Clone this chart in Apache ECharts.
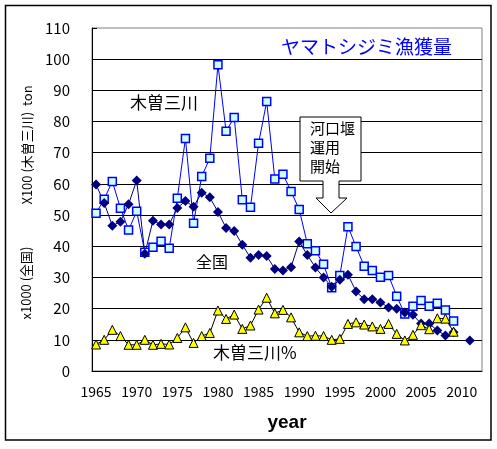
<!DOCTYPE html>
<html>
<head>
<meta charset="utf-8">
<script src="https://cdn.jsdelivr.net/npm/echarts@6/dist/echarts.min.js"></script>
<style>
  html, body { margin: 0; padding: 0; background: #fff; }
  #Chart { width: 497px; height: 449px; }
</style>
</head>
<body>
<div id="Chart"></div>
<script>
// Years on the category axis (1965 - 2012)
var years = ['1965','1966','1967','1968','1969','1970','1971','1972','1973','1974',
  '1975','1976','1977','1978','1979','1980','1981','1982','1983','1984',
  '1985','1986','1987','1988','1989','1990','1991','1992','1993','1994',
  '1995','1996','1997','1998','1999','2000','2001','2002','2003','2004',
  '2005','2006','2007','2008','2009','2010','2011','2012'];

// 木曽三川 catch, x100 ton
var kisoCatch = [50.6, 55.1, 60.8, 52.2, 45.2, 51.2, 38.1, 39.7, 41.6, 39.4,
  55.4, 74.6, 47.4, 62.4, 68.2, 98.2, 76.9, 81.3, 54.9, 52.5,
  73.0, 86.4, 61.6, 63.1, 57.6, 51.8, 40.8, 38.6, 34.2, 26.7,
  30.6, 46.3, 39.9, 33.6, 32.2, 30.1, 30.6, 24.0, 18.3, 20.8,
  22.6, 20.8, 21.7, 19.6, 16.0, null, null, null];

// 全国 catch, x1000 ton
var nationalCatch = [59.8, 53.9, 46.6, 47.9, 53.5, 61.1, 37.6, 48.2, 47.0, 47.0,
  52.3, 54.5, 52.7, 57.2, 55.7, 51.0, 45.9, 44.9, 40.5, 36.3,
  37.2, 36.9, 32.7, 32.2, 33.3, 41.5, 37.2, 33.2, 30.0, 27.0,
  29.3, 30.9, 25.5, 23.0, 23.0, 22.0, 20.4, 20.0, 18.8, 18.0,
  15.2, 15.2, 13.0, 11.4, 12.4, null, 9.8, null];

// 木曽三川 share of national catch, %
var kisoShare = [8.5, 10.0, 13.2, 11.2, 8.4, 8.4, 10.0, 8.4, 8.7, 8.5,
  10.6, 14.0, 9.0, 11.2, 12.2, 19.4, 16.7, 18.1, 13.5, 14.6,
  19.7, 23.5, 18.5, 19.6, 17.2, 12.4, 11.2, 11.3, 11.2, 10.0,
  10.3, 15.1, 15.6, 14.9, 14.3, 13.5, 15.1, 11.9, 9.8, 11.6,
  14.7, 13.4, 16.9, 16.8, 12.6, null, null, null];

var FONT = '"Noto Sans CJK JP", sans-serif';

var chart = echarts.init(document.getElementById('Chart'));

// callout with a down arrow for 河口堰 運用開始
var callout = [[300,117],[361,117],[361,181],[339,181],[339,198],[347,198],
  [331,213],[316,198],[323,198],[323,181],[300,181]];

var option = {
  animation: false,
  backgroundColor: '#fff',
  title: {
    text: 'ヤマトシジミ漁獲量',
    left: 276,
    top: 32,
    textStyle: { color: '#0000FF', fontSize: 19, fontWeight: 'normal', fontFamily: FONT }
  },
  grid: {
    left: 92, right: 15, top: 28, bottom: 78,
    show: true, borderColor: '#808080', borderWidth: 1
  },
  xAxis: {
    type: 'category',
    data: years,
    boundaryGap: true,
    name: 'year',
    nameLocation: 'middle',
    nameGap: 42,
    nameTextStyle: { color: '#000', fontSize: 19, fontWeight: 'bold', fontFamily: 'Liberation Sans, sans-serif' },
    axisLine: { lineStyle: { color: '#000', width: 1 } },
    axisTick: { inside: true, length: 5, interval: 4, lineStyle: { color: '#000' } },
    axisLabel: { interval: 4, color: '#000', fontSize: 14, margin: 14, fontFamily: FONT },
    splitLine: { show: false }
  },
  yAxis: {
    type: 'value',
    min: 0, max: 110, interval: 10,
    axisLine: { show: true, lineStyle: { color: '#000', width: 1 } },
    axisTick: { show: true, inside: true, length: 5, lineStyle: { color: '#000' } },
    axisLabel: { color: '#000', fontSize: 15, margin: 22, fontFamily: FONT },
    splitLine: { show: true, showMaxLine: false, lineStyle: { color: '#000', width: 1 } }
  },
  series: [
    {
      name: '木曽三川',
      type: 'line',
      data: kisoCatch,
      showAllSymbol: true,
      symbol: 'rect',
      symbolSize: 8,
      lineStyle: { color: '#0000FF', width: 1 },
      itemStyle: { color: '#CCFFFF', borderColor: '#0000FF', borderWidth: 1.5 }
    },
    {
      name: '全国',
      type: 'line',
      data: nationalCatch,
      showAllSymbol: true,
      symbol: 'diamond',
      symbolSize: 10,
      lineStyle: { color: '#000080', width: 1 },
      itemStyle: { color: '#000080' }
    },
    {
      name: '木曽三川%',
      type: 'line',
      data: kisoShare,
      showAllSymbol: true,
      symbol: 'triangle',
      symbolSize: 9,
      lineStyle: { color: '#000', width: 1 },
      itemStyle: { color: '#FFFF00', borderColor: '#000', borderWidth: 1 }
    }
  ],
  graphic: [
    {
      type: 'rect', silent: true, z: 100,
      shape: { x: 5.5, y: 5.5, width: 485.5, height: 434.5 },
      style: { fill: null, stroke: '#000', lineWidth: 1.5 }
    },
    {
      type: 'text', z: 100, x: 27, y: 145, rotation: Math.PI / 2,
      style: { text: 'X100 (木曽三川)  ton', fill: '#000', font: '13px ' + FONT,
        textAlign: 'center', textVerticalAlign: 'middle' }
    },
    {
      type: 'text', z: 100, x: 26, y: 283, rotation: Math.PI / 2,
      style: { text: 'x1000 (全国)', fill: '#000', font: '13px ' + FONT,
        textAlign: 'center', textVerticalAlign: 'middle' }
    },
    {
      type: 'text', z: 100, x: 130, y: 103,
      style: { text: '木曽三川', fill: '#000', font: '17px ' + FONT, textVerticalAlign: 'middle' }
    },
    {
      type: 'text', z: 100, x: 196, y: 262,
      style: { text: '全国', fill: '#000', font: '16px ' + FONT, textVerticalAlign: 'middle' }
    },
    {
      type: 'text', z: 100, x: 213, y: 353,
      style: { text: '木曽三川%', fill: '#000', font: '17px ' + FONT, textVerticalAlign: 'middle' }
    },
    {
      type: 'polygon', z: 100,
      shape: { points: callout },
      style: { fill: '#fff', stroke: '#000', lineWidth: 1 }
    },
    {
      type: 'text', z: 101, x: 310, y: 147,
      style: { text: '河口堰\n運用\n開始', fill: '#000', font: '15px ' + FONT,
        lineHeight: 19, textVerticalAlign: 'middle' }
    }
  ]
};

chart.setOption(option);
</script>
</body>
</html>
